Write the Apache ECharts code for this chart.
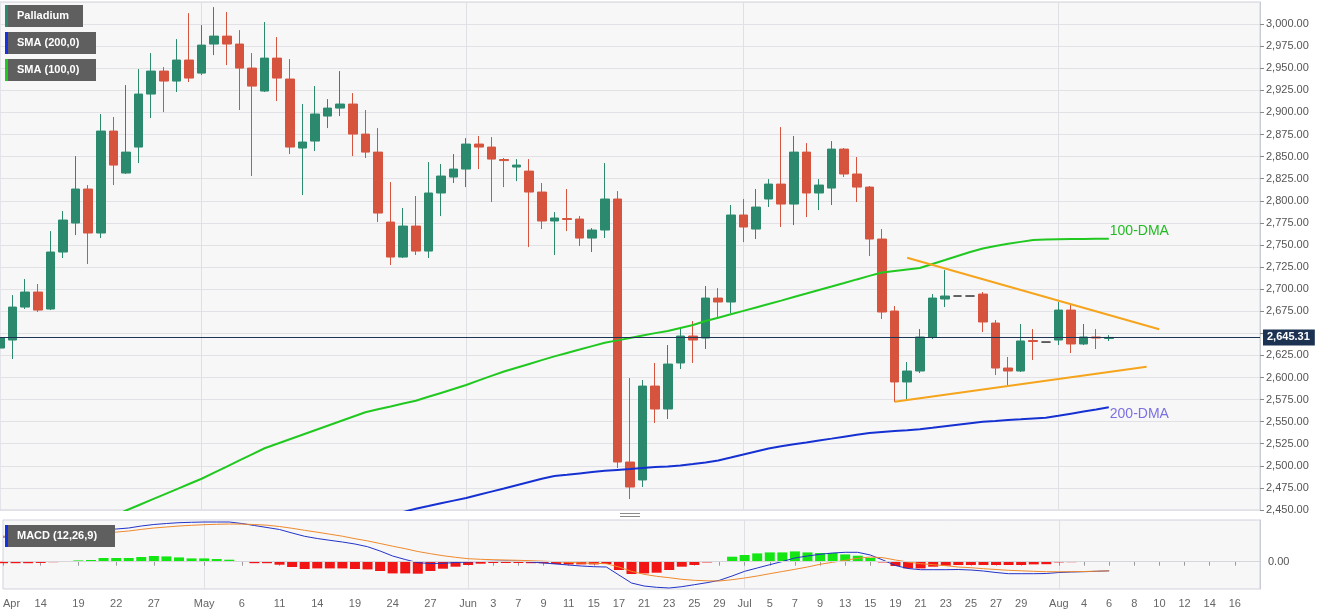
<!DOCTYPE html>
<html>
<head>
<meta charset="utf-8">
<script src="https://cdn.jsdelivr.net/npm/echarts/dist/echarts.min.js"></script>
<style>
html,body{margin:0;padding:0;background:#fff;}
#chart{width:1331px;height:615px;}
</style>
</head>
<body>
<div id="chart"></div>
<script>
// ---- categories (one per bar, plus empty future slots) ----
const categories = ['Apr 9','Apr 12','Apr 13','Apr 14','Apr 15','Apr 16','Apr 19','Apr 20','Apr 21','Apr 22','Apr 23','Apr 26','Apr 27','Apr 28','Apr 29','Apr 30',
'May 3','May 4','May 5','May 6','May 7','May 10','May 11','May 12','May 13','May 14','May 17','May 18','May 19','May 20','May 21','May 24','May 25','May 26','May 27','May 28','May 31',
'Jun 1','Jun 2','Jun 3','Jun 4','Jun 7','Jun 8','Jun 9','Jun 10','Jun 11','Jun 14','Jun 15','Jun 16','Jun 17','Jun 18','Jun 21','Jun 22','Jun 23','Jun 24','Jun 25','Jun 28','Jun 29','Jun 30',
'Jul 1','Jul 2','Jul 5','Jul 6','Jul 7','Jul 8','Jul 9','Jul 12','Jul 13','Jul 14','Jul 15','Jul 16','Jul 19','Jul 20','Jul 21','Jul 22','Jul 23','Jul 24','Jul 25','Jul 26','Jul 27','Jul 28','Jul 29','Jul 30',
'Aug 1','Aug 2','Aug 3','Aug 4','Aug 5','Aug 6','Aug 7','Aug 8','Aug 9','Aug 10','Aug 11','Aug 12','Aug 13','Aug 14','Aug 15','Aug 16','Aug 17','Aug 18'];

// ---- x tick labels: [category index, text] ----
const tickLabels = [[0,'Apr'],[3,'14'],[6,'19'],[9,'22'],[12,'27'],[16,'May'],[19,'6'],[22,'11'],[25,'14'],[28,'19'],[31,'24'],[34,'27'],
[37,'Jun'],[39,'3'],[41,'7'],[43,'9'],[45,'11'],[47,'15'],[49,'17'],[51,'21'],[53,'23'],[55,'25'],[57,'29'],
[59,'Jul'],[61,'5'],[63,'7'],[65,'9'],[67,'13'],[69,'15'],[71,'19'],[73,'21'],[75,'23'],[77,'25'],[79,'27'],[81,'29'],
[84,'Aug'],[86,'4'],[88,'6'],[90,'8'],[92,'10'],[94,'12'],[96,'14'],[98,'16']];
const monthStarts = [16,37,59,84];

// ---- OHLC ----
const opens = [2633.3,2642.4,2679.7,2696.7,2677.5,2742.0,2774.8,2813.3,2763.5,2878.9,
2831.4,2860.8,2920.8,2946.8,2935.5,2959.3,2944.5,2977.4,2986.4,2977.4,
2950.2,2924.2,2961.5,2937.8,2859.7,2867.6,2895.9,2904.9,2909.5,2875.5,
2855.1,2775.9,2736.3,2771.4,2743.1,2808.8,2826.9,2835.9,2864.2,2860.8,
2846.7,2838.2,2833.6,2809.9,2777.1,2779.9,2779.3,2757.8,2766.9,2802.0,
2504.3,2484.0,2590.3,2564.3,2616.4,2646.9,2644.6,2689.9,2685.4,2783.9,
2768.0,2802.0,2818.9,2796.3,2855.1,2808.8,2814.4,2858.5,2830.3,2815.5,
2756.7,2675.2,2594.9,2607.3,2645.8,2688.8,2692.2,2692.2,2694.4,2661.6,
2610.7,2607.3,2641.8,2640.1,2642.4,2676.3,2637.9,2645.8,2644.1];
const highs = [2656.0,2693.3,2711.4,2705.8,2765.7,2788.4,2850.6,2817.8,2898.2,2894.8,
2931.0,2949.1,2967.2,2951.3,2983.0,3012.4,2998.9,3019.2,3013.6,2993.2,
2967.2,3002.3,2985.3,2960.4,2909.5,2929.8,2915.1,2946.8,2921.9,2902.7,
2882.3,2821.2,2791.8,2805.4,2843.8,2841.6,2852.9,2871.0,2873.3,2872.1,
2848.4,2847.2,2847.2,2820.1,2787.2,2813.3,2782.7,2769.1,2842.7,2811.0,
2599.4,2597.1,2616.4,2636.7,2657.1,2663.9,2703.5,2701.2,2795.2,2802.0,
2813.3,2824.6,2883.4,2873.3,2865.3,2824.6,2867.6,2859.7,2849.5,2816.7,
2768.0,2680.9,2617.5,2654.8,2694.4,2721.6,2692.2,2692.2,2696.7,2665.0,
2623.2,2660.5,2654.8,2640.1,2685.4,2683.1,2660.5,2654.8,2648.0];
const lows = [2625.4,2620.9,2677.5,2674.1,2676.3,2735.2,2761.2,2728.4,2757.8,2817.8,
2830.3,2842.7,2893.6,2900.4,2923.1,2934.4,2942.3,2964.9,2953.6,2902.7,
2828.0,2923.1,2912.9,2852.9,2806.5,2856.3,2882.3,2895.9,2850.6,2848.4,
2775.9,2727.3,2735.2,2738.6,2735.2,2782.7,2820.1,2815.5,2835.9,2798.6,
2815.5,2822.3,2747.6,2768.0,2738.6,2765.7,2748.8,2742.0,2757.8,2497.5,
2462.4,2476.0,2548.5,2553.0,2609.6,2616.4,2632.2,2667.3,2672.9,2753.3,
2756.7,2792.9,2770.3,2772.5,2781.6,2789.5,2795.2,2826.9,2798.6,2737.5,
2666.2,2572.2,2574.5,2605.0,2643.5,2679.7,2692.2,2692.2,2651.4,2602.8,
2591.5,2606.2,2619.8,2640.1,2636.7,2627.7,2636.7,2632.2,2641.3];
const closes = [2644.6,2679.7,2696.7,2676.3,2742.0,2778.2,2813.3,2763.5,2878.9,2840.4,
2855.1,2920.8,2946.8,2935.5,2959.3,2938.9,2976.2,2986.4,2977.4,2950.2,
2929.8,2961.5,2938.9,2860.8,2866.5,2898.2,2904.9,2909.5,2875.5,2855.1,
2786.1,2736.3,2771.4,2743.1,2808.8,2828.0,2835.9,2864.2,2860.8,2847.2,
2845.5,2840.4,2809.9,2777.1,2780.5,2778.8,2757.8,2766.9,2802.0,2504.3,
2476.0,2590.3,2564.3,2615.2,2646.9,2642.4,2689.9,2685.4,2783.9,2770.3,
2792.9,2818.9,2796.3,2855.1,2808.8,2817.8,2858.5,2830.3,2815.5,2756.7,
2674.1,2594.9,2607.3,2645.8,2689.9,2692.2,2692.2,2692.2,2662.8,2610.7,
2607.3,2641.3,2640.7,2640.1,2676.3,2637.9,2645.8,2644.6,2645.31];

// ---- moving averages ----
const sma100 = [null,null,null,null,null,null,null,null,null,2443,
2449.4,2455.4,2461.4,2467.4,2473.4,2479.4,2485.4,2492.3,2499.2,2506.1,
2513.0,2519.9,2525.0,2530.1,2535.2,2540.3,2545.4,2550.5,2555.6,2560.7,
2564.0,2567.2,2570.5,2573.7,2578.1,2582.5,2586.9,2591.5,2596.7,2601.8,
2606.7,2611.0,2615.3,2619.6,2623.9,2627.8,2631.6,2635.5,2639.3,2642.0,
2644.8,2647.5,2650.2,2652.6,2656.0,2659.4,2663.9,2667.7,2671.6,2675.4,
2679.3,2683.1,2687.0,2691.1,2695.0,2699.0,2702.9,2706.9,2711.0,2715.0,
2718.8,2720.5,2722.2,2723.9,2728.4,2732.9,2737.5,2742.0,2745.9,2748.8,
2751.3,2753.5,2755.6,2756.1,2756.5,2756.7,2756.8,2757.0,2757.0];
const sma200 = [null,null,null,null,null,null,null,null,null,null,
null,null,null,null,null,null,null,null,null,null,
null,null,null,null,null,null,null,null,null,null,
null,null,2447.7,2451.5,2454.5,2457.6,2460.6,2463.6,2467.2,2470.8,
2474.4,2478.1,2481.7,2485.3,2488.5,2489.9,2491.4,2492.9,2494.4,2495.4,
2496.4,2497.5,2498.6,2499.2,2500.5,2502.1,2503.8,2506.1,2509.4,2512.8,
2516.2,2519.6,2522.2,2524.4,2526.5,2528.7,2530.8,2533.0,2535.1,2537.1,
2538.3,2539.4,2540.3,2541.3,2543.0,2544.8,2546.5,2548.2,2549.8,2550.7,
2551.9,2552.6,2553.6,2554.5,2556.6,2559.0,2561.4,2563.7,2566.2];

// ---- trend lines: [category index, price] ----
const upperTrend = [[72,2735.5],[92,2654.5]];
const lowerTrend = [[71,2572.6],[91,2612.2]];

// ---- MACD (12,26,9) ----
const macdLine = [49.4,50.6,52.2,53.8,55.2,58,61,63,64.4,65.4,
67.4,71.4,74.4,76.4,78,78.8,79.4,79.4,79.4,76.4,
72.4,68.4,64.4,57.4,50.8,46.4,42.8,39.4,35.4,30,
21.4,11.4,4.4,-2,-3.6,-3.2,-1.6,-0.6,0.4,0.8,
1.4,1,-0.6,-2.6,-4.6,-6.6,-8.6,-10,-10.6,-26.6,
-42.6,-48.6,-51.2,-52.6,-50,-46,-42,-37.2,-28.6,-19.2,
-12.6,-6,0.4,7.4,11.4,14.8,17.4,18.8,18.8,13.4,
3.4,-7.6,-13.6,-16,-16,-16,-15.6,-16.6,-18.6,-21.6,
-24,-24,-24,-23.6,-21.6,-20.6,-20,-19.2,-18.2];
const signalLine = [51,52,53.2,54.6,55.6,56.4,57.2,57.8,58.4,59.2,
61.4,64.6,67.4,69.4,71.4,72.8,74,74.8,75.4,75.2,
74.4,73,70.4,66.8,62.8,59,55,51,46,41.6,
36.4,31,26,20.4,16,12,8.8,6,4.8,4,
3.4,2.8,2,1,0,-1.2,-2.6,-3.2,-4,-10.6,
-19.2,-25.2,-29.2,-32,-35.2,-37.2,-38.2,-38.6,-36,-32.6,
-28.6,-24,-19.6,-15.2,-10.6,-5.2,-1.2,2.8,6.8,9.4,
8,3.4,-0.6,-4,-6,-8,-10.6,-12,-14,-15.6,
-17.2,-18.2,-19.2,-20,-20.2,-20,-19.6,-19,-18.2];
const macdHist = [-3,-3,-3,-2.5,-1,1.4,2.6,3.4,7.4,7.4,
7.4,9.4,11.4,10.6,8.6,6.6,6.6,5.4,4,1,
-3,-3,-6,-10.6,-14.6,-13.4,-13.4,-13.4,-14.6,-15.4,
-18.6,-23.4,-23.4,-24,-18.6,-14,-10,-6.6,-4,-2.6,
-2.6,-2.6,-3,-3,-4.6,-5.4,-5.4,-5.4,-4.6,-16.6,
-24.6,-23.4,-22,-16.6,-10,-6.6,-1.5,1,10,13.4,
16.6,18.6,18.6,20.6,18.6,17.4,17.4,14.6,12,7.4,
-1.5,-8.6,-13.4,-13.4,-10,-8,-6.6,-6.6,-6.6,-6.6,
-6.6,-6.6,-5.4,-5,-1.4,-1,1,1.4,1.4];

// ---- build ----
const candleData = opens.map((o, i) => [o, closes[i], lows[i], highs[i]]);
const labelMap = {};
tickLabels.forEach(([i, t]) => { labelMap[i] = t; });
const isLabeled = (i) => labelMap[i] !== undefined;
const isMonth = (i) => monthStarts.indexOf(i) >= 0;
const lastPrice = closes[closes.length - 1];
const fmt = (v) => Number(v).toLocaleString('en-US', {minimumFractionDigits: 2, maximumFractionDigits: 2});
// axis labels that would sit under the last-price tag are hidden, as in the source chart
const axisFmt = (v) => Math.abs(v - lastPrice) < 10 ? '' : fmt(v);
const FONT = '"Liberation Sans", Arial, sans-serif';
const UP = '#2b8a6e', DOWN = '#d6543e';

function legendBox(y, w, stripe, text) {
  return [
    {type: 'rect', z: 100, shape: {x: 5, y: y, width: w, height: 22}, style: {fill: '#5f5f5f'}},
    {type: 'rect', z: 101, shape: {x: 5, y: y, width: 3, height: 22}, style: {fill: stripe}},
    {type: 'text', z: 102, style: {text: text, x: 17, y: y + 11, fill: '#ffffff', font: 'bold 11px ' + FONT, verticalAlign: 'middle'}}
  ];
}

const chart = echarts.init(document.getElementById('chart'), null, {renderer: 'canvas'});
chart.setOption({
  animation: false,
  backgroundColor: '#ffffff',
  textStyle: {fontFamily: FONT},
  grid: [
    {left: 0, right: 71, top: 2, height: 508, show: true, backgroundColor: '#f7f7f8', borderColor: '#d0d3dc', borderWidth: 1},
    {left: 0, right: 71, top: 520, height: 69, show: true, backgroundColor: '#f7f7f8', borderColor: '#d0d3dc', borderWidth: 1}
  ],
  xAxis: [
    {type: 'category', gridIndex: 0, data: categories, boundaryGap: false,
     axisLine: {show: false}, axisTick: {show: false}, axisLabel: {show: false},
     splitLine: {show: true, interval: (i) => isMonth(i), lineStyle: {color: '#e0e0e4'}}},
    {type: 'category', gridIndex: 1, data: categories, boundaryGap: false,
     axisLine: {show: true, lineStyle: {color: '#c8ccd6'}},
     axisTick: {show: true, interval: (i) => isLabeled(i), length: 4, lineStyle: {color: '#9a9a9a'}},
     axisLabel: {show: true, interval: (i) => isLabeled(i), formatter: (v, i) => labelMap[i] || '',
                 color: '#666', fontSize: 11, margin: 9, alignMinLabel: 'left'},
     splitLine: {show: true, interval: (i) => isMonth(i), lineStyle: {color: '#e0e0e4'}}}
  ],
  yAxis: [
    {type: 'value', gridIndex: 0, position: 'right', min: 2450, max: 3025, interval: 25,
     axisLine: {show: true, lineStyle: {color: '#c8ccd6'}},
     axisTick: {show: true, length: 4, lineStyle: {color: '#888'}},
     axisLabel: {color: '#555', fontSize: 11, margin: 6, showMaxLabel: false, formatter: axisFmt},
     splitLine: {show: true, lineStyle: {color: '#e2e2e6'}}},
    {type: 'value', gridIndex: 1, position: 'right', min: -54.6, max: 83.4,
     axisLine: {show: true, lineStyle: {color: '#c8ccd6'}},
     axisTick: {show: false}, axisLabel: {show: false}, splitLine: {show: false}}
  ],
  series: [
    {type: 'candlestick', name: 'Palladium', xAxisIndex: 0, yAxisIndex: 0, data: candleData, barWidth: 9,
     itemStyle: {color: UP, color0: DOWN, borderColor: UP, borderColor0: DOWN, borderColorDoji: '#333', borderWidth: 1},
     markLine: {silent: true, symbol: ['none', 'none'], animation: false,
       lineStyle: {color: '#1e3556', width: 1, type: 'solid'},
       label: {show: true, position: 'end', distance: 3, formatter: () => fmt(lastPrice),
               backgroundColor: '#1c3252', color: '#fff', fontWeight: 'bold', fontSize: 11, padding: [3, 5, 2, 4]},
       data: [{yAxis: lastPrice}]}},
    {type: 'line', name: 'SMA (200,0)', xAxisIndex: 0, yAxisIndex: 0, data: sma200, showSymbol: false,
     lineStyle: {color: '#1631d2', width: 2}, itemStyle: {color: '#1631d2'},
     endLabel: {show: true, formatter: '200-DMA', color: '#7b70e2', fontSize: 14, distance: 1, offset: [0, 7]}},
    {type: 'line', name: 'SMA (100,0)', xAxisIndex: 0, yAxisIndex: 0, data: sma100, showSymbol: false,
     lineStyle: {color: '#20c820', width: 2}, itemStyle: {color: '#20c820'},
     endLabel: {show: true, formatter: '100-DMA', color: '#22bb22', fontSize: 14, distance: 1, offset: [0, -8]}},
    {type: 'line', name: 'Upper trend', xAxisIndex: 0, yAxisIndex: 0, data: upperTrend, showSymbol: false,
     lineStyle: {color: '#f5a41c', width: 2}},
    {type: 'line', name: 'Lower trend', xAxisIndex: 0, yAxisIndex: 0, data: lowerTrend, showSymbol: false,
     lineStyle: {color: '#f5a41c', width: 2}},
    {type: 'bar', name: 'Histogram', xAxisIndex: 1, yAxisIndex: 1, data: macdHist, barWidth: 10,
     itemStyle: {color: (p) => p.value >= 0 ? '#14e614' : '#f21515'},
     markLine: {silent: true, symbol: ['none', 'none'], animation: false,
       lineStyle: {color: '#d6d6da', width: 1, type: 'solid'},
       label: {show: true, position: 'end', distance: 8, formatter: '0.00', color: '#555', fontSize: 11},
       data: [{yAxis: 0}]}},
    {type: 'line', name: 'MACD', xAxisIndex: 1, yAxisIndex: 1, data: macdLine, showSymbol: false,
     lineStyle: {color: '#2233c8', width: 1}},
    {type: 'line', name: 'Signal', xAxisIndex: 1, yAxisIndex: 1, data: signalLine, showSymbol: false,
     lineStyle: {color: '#f08a2c', width: 1}}
  ],
  graphic: [].concat(
    legendBox(5, 78, UP, 'Palladium'),
    legendBox(32, 91, '#1631e0', 'SMA (200,0)'),
    legendBox(59, 91, '#20c820', 'SMA (100,0)'),
    legendBox(525, 110, '#1631e0', 'MACD (12,26,9)'),
    [
      {type: 'line', z: 100, shape: {x1: 620, y1: 513.5, x2: 640, y2: 513.5}, style: {stroke: '#8a8a8a', lineWidth: 1}},
      {type: 'line', z: 100, shape: {x1: 620, y1: 516.5, x2: 640, y2: 516.5}, style: {stroke: '#8a8a8a', lineWidth: 1}}
    ]
  )
});
</script>
</body>
</html>
